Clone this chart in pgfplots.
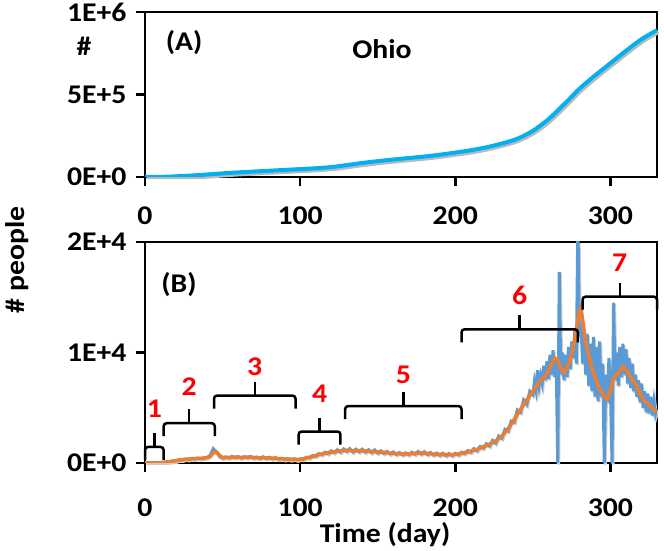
\documentclass[border=0pt]{standalone}
\usepackage{pgfplots}
\pgfplotsset{compat=1.18}
\usepackage{pgfplotstable}
\usepackage{fontspec}
\setmainfont{Carlito}[FakeStretch=1.1]
\definecolor{cyanA}{RGB}{0,176,240}
\definecolor{blueB}{RGB}{91,155,213}
\definecolor{orangeB}{RGB}{237,125,49}
\newcommand{\lbl}{\fontsize{27}{32}\selectfont\bfseries}

\pgfplotstableread[row sep=\\]{
day cum\\
0 0\\ 10 1000\\ 20 4000\\ 30 9000\\ 40 15000\\ 50 22000\\ 60 28000\\ 70 33000\\ 80 38000\\ 90 43000\\
100 48000\\ 110 53000\\ 120 60000\\ 130 72000\\ 140 85000\\ 150 96000\\ 160 106000\\ 170 115000\\ 180 124000\\ 190 135000\\
200 148000\\ 210 162000\\ 220 180000\\ 230 203000\\ 240 232000\\ 250 280000\\ 260 350000\\ 270 440000\\ 275 487000\\ 280 535000\\
290 615000\\ 300 690000\\ 310 765000\\ 320 835000\\ 330 890000\\
}\cumdata

\pgfplotstableread[row sep=\\]{
day val\\
0 0\\ 2 0\\ 4 5\\ 6 15\\ 8 20\\ 10 45\\ 12 55\\ 14 100\\ 16 120\\ 18 190\\
20 200\\ 22 290\\ 24 280\\ 26 360\\ 28 320\\ 30 410\\ 32 380\\ 34 450\\ 36 400\\ 38 470\\
40 480\\ 42 700\\ 44 1300\\ 46 1000\\ 48 600\\ 50 450\\ 52 560\\ 54 450\\ 56 600\\ 58 480\\
60 580\\ 62 450\\ 64 580\\ 66 480\\ 68 600\\ 70 450\\ 72 540\\ 74 420\\ 76 560\\ 78 420\\
80 520\\ 82 390\\ 84 480\\ 86 360\\ 88 430\\ 90 320\\ 92 400\\ 94 300\\ 96 380\\ 98 280\\
100 370\\ 102 350\\ 104 520\\ 106 470\\ 108 680\\ 110 620\\ 112 850\\ 114 760\\ 116 980\\ 118 850\\
120 1100\\ 122 950\\ 124 1200\\ 126 1000\\ 128 1280\\ 130 1050\\ 132 1300\\ 134 1000\\ 136 1250\\ 138 1020\\
140 1250\\ 142 980\\ 144 1200\\ 146 950\\ 148 1180\\ 150 900\\ 152 1100\\ 154 870\\ 156 1050\\ 158 820\\
160 1000\\ 162 780\\ 164 950\\ 166 750\\ 168 920\\ 170 760\\ 172 980\\ 174 800\\ 176 1050\\ 178 820\\
180 1030\\ 182 780\\ 184 950\\ 186 720\\ 188 900\\ 190 700\\ 192 880\\ 194 680\\ 196 860\\ 198 680\\
200 880\\ 202 740\\ 204 980\\ 206 860\\ 208 1120\\ 210 980\\ 212 1300\\ 214 1120\\ 216 1500\\ 218 1350\\
220 1750\\ 222 1550\\ 224 2050\\ 226 1800\\ 228 2450\\ 230 2250\\ 232 3050\\ 234 2900\\ 236 3800\\ 238 3700\\
240 4800\\ 242 4600\\ 244 5700\\ 246 5300\\ 248 6500\\ 250 6200\\
251 7400\\ 252 6600\\ 253 8400\\ 254 7000\\ 255 7900\\ 256 7200\\ 257 8800\\ 258 7500\\ 259 9200\\ 260 7600\\
261 9800\\ 262 8000\\ 263 10200\\ 264 7800\\ 265 9500\\ 266 0\\ 267 17300\\ 268 8000\\ 269 10000\\ 270 7500\\
271 9800\\ 272 7800\\ 273 10500\\ 274 8500\\ 275 11000\\ 276 9500\\ 277 12000\\ 278 9000\\ 279 22000\\ 280 11500\\
281 12500\\ 282 9000\\ 283 11800\\ 284 8000\\ 285 11700\\ 286 7000\\ 287 10800\\ 288 6500\\ 289 11400\\ 290 6000\\
291 10500\\ 292 5600\\ 293 11000\\ 294 6000\\ 295 9000\\ 296 0\\ 297 8000\\ 298 5500\\ 299 9500\\ 300 6500\\
301 0\\ 302 14500\\ 303 7500\\ 304 10000\\ 305 7000\\ 306 10500\\ 307 7800\\ 308 10800\\ 309 8000\\ 310 10300\\
311 7200\\ 312 9500\\ 313 6800\\ 314 9000\\ 315 6500\\ 316 8000\\ 317 6000\\ 318 7500\\ 319 5500\\ 320 7200\\
321 5000\\ 322 6500\\ 323 4600\\ 324 6300\\ 325 4500\\ 326 6000\\ 327 4300\\ 328 5600\\ 329 4400\\ 330 4900\\
}\bluedata

\pgfplotstableread[row sep=\\]{
day val\\
0 0\\ 2 0\\ 4 5\\ 6 10\\ 8 20\\ 10 40\\ 12 60\\ 14 90\\ 16 130\\ 18 170\\
20 220\\ 22 260\\ 24 300\\ 26 330\\ 28 360\\ 30 380\\ 32 400\\ 34 410\\ 36 420\\ 38 440\\
40 500\\ 42 620\\ 44 900\\ 46 1000\\ 48 700\\ 50 500\\ 52 480\\ 54 500\\ 56 520\\ 58 540\\
60 520\\ 62 500\\ 64 510\\ 66 530\\ 68 520\\ 70 500\\ 72 480\\ 74 470\\ 76 480\\ 78 470\\
80 450\\ 82 440\\ 84 420\\ 86 400\\ 88 380\\ 90 360\\ 92 350\\ 94 340\\ 96 330\\ 98 320\\
100 330\\ 102 380\\ 104 450\\ 106 520\\ 108 600\\ 110 680\\ 112 760\\ 114 820\\ 116 880\\ 118 930\\
120 980\\ 122 1020\\ 124 1060\\ 126 1100\\ 128 1120\\ 130 1150\\ 132 1130\\ 134 1120\\ 136 1100\\ 138 1120\\
140 1100\\ 142 1080\\ 144 1060\\ 146 1050\\ 148 1020\\ 150 1000\\ 152 980\\ 154 960\\ 156 930\\ 158 900\\
160 880\\ 162 860\\ 164 840\\ 166 830\\ 168 820\\ 170 830\\ 172 850\\ 174 880\\ 176 900\\ 178 920\\
180 900\\ 182 870\\ 184 840\\ 186 810\\ 188 790\\ 190 780\\ 192 770\\ 194 760\\ 196 750\\ 198 760\\
200 780\\ 202 820\\ 204 880\\ 206 940\\ 208 1000\\ 210 1080\\ 212 1160\\ 214 1250\\ 216 1350\\ 218 1460\\
220 1580\\ 222 1700\\ 224 1850\\ 226 2000\\ 228 2200\\ 230 2450\\ 232 2750\\ 234 3100\\ 236 3500\\ 238 3950\\
240 4400\\ 242 4850\\ 244 5300\\ 246 5700\\ 248 6100\\ 250 6500\\ 252 6900\\ 254 7300\\ 256 7600\\ 258 7900\\
260 8300\\ 262 8900\\ 264 9500\\ 266 9300\\ 268 8600\\ 270 8200\\ 272 8700\\ 274 9300\\ 276 10500\\ 278 12000\\
280 13800\\ 281 14100\\ 282 13000\\ 284 11000\\ 286 9800\\ 288 8600\\ 290 7800\\ 292 7000\\ 294 6500\\ 296 6000\\
298 5800\\ 300 6600\\ 302 7700\\ 304 8000\\ 306 8300\\ 308 8700\\ 310 8500\\ 312 8000\\ 314 7500\\ 316 7200\\
318 6600\\ 320 6000\\ 322 5600\\ 324 5400\\ 326 5100\\ 328 4800\\ 330 4650\\
}\orangedata

\newcommand{\brk}[6]{%
  \draw[line width=2.5pt, rounded corners=3pt]
    ([yshift=-13pt]axis cs:#1,#4) -- (axis cs:#1,#4) -- (axis cs:#3,#4) -- ([yshift=-13pt]axis cs:#3,#4);
  \draw[line width=2.5pt] (axis cs:#2,#4) -- ([yshift=14pt]axis cs:#2,#4);
  \node[text=red, font=\lbl] at (axis cs:#2,#5) {#6};
}

\begin{document}
\begin{tikzpicture}[x=1pt,y=1pt]
\useasboundingbox (0,0) rectangle (664,551);
\pgfplotsset{
  myaxis/.style={
    scale only axis, width=512pt, xmin=0, xmax=330,
    axis line style={line width=2.5pt},
    tick align=outside, tick pos=left, major tick length=9pt,
    every tick/.style={black, line width=2.5pt},
    xtick={0,100,200,300}, xticklabels={0,100,200,300},
    ticklabel style={font=\lbl},
    xticklabel style={yshift=-17pt},
    yticklabel style={xshift=-6pt},
    scaled y ticks=false,
    clip mode=individual,
  }
}
\begin{axis}[myaxis, at={(145pt,374pt)}, anchor=south west, height=165pt,
  ymin=0, ymax=1000000, ytick={0,500000,1000000}, yticklabels={0E+0,5E+5,1E+6}]
  \addplot[gray!55, line width=4pt, smooth, xshift=1.5pt, yshift=-2pt] table[x=day,y=cum] {\cumdata};
  \addplot[cyanA, line width=4pt, smooth] table[x=day,y=cum] {\cumdata};
\end{axis}

\begin{axis}[myaxis, at={(145pt,88pt)}, anchor=south west, height=221pt,
  ymin=0, ymax=20000, ytick={0,10000,20000}, yticklabels={0E+0,1E+4,2E+4},
  xticklabel style={yshift=-6pt}]
  \addplot[gray!40, line width=3pt, xshift=1pt, yshift=-1.5pt] table[x=day,y=val] {\bluedata};
  \addplot[blueB, line width=3pt] table[x=day,y=val] {\bluedata};
  \addplot[orangeB, line width=3.5pt] table[x=day,y=val] {\orangedata};
  \brk{0}{6}{12}{1450}{4930}{1}
  \brk{12}{28.5}{45}{3600}{6900}{2}
  \brk{44.5}{70.75}{97}{6100}{8700}{3}
  \brk{99}{112.5}{126}{2850}{6300}{4}
  \brk{129}{166.5}{204}{5150}{8000}{5}
  \brk{204}{241.5}{279}{12100}{15200}{6}
  \brk{282}{306}{330}{15050}{18100}{7}
\end{axis}

\node[font=\lbl] at (84,505) {\#};
\node[font=\lbl] at (184,508) {(A)};
\node[font=\lbl] at (382,502) {Ohio};
\node[font=\lbl] at (179,266) {(B)};
\node[font=\lbl, rotate=90] at (17,291) {\# people};
\node[font=\lbl] at (385,16) {Time (day)};
\end{tikzpicture}
\end{document}
